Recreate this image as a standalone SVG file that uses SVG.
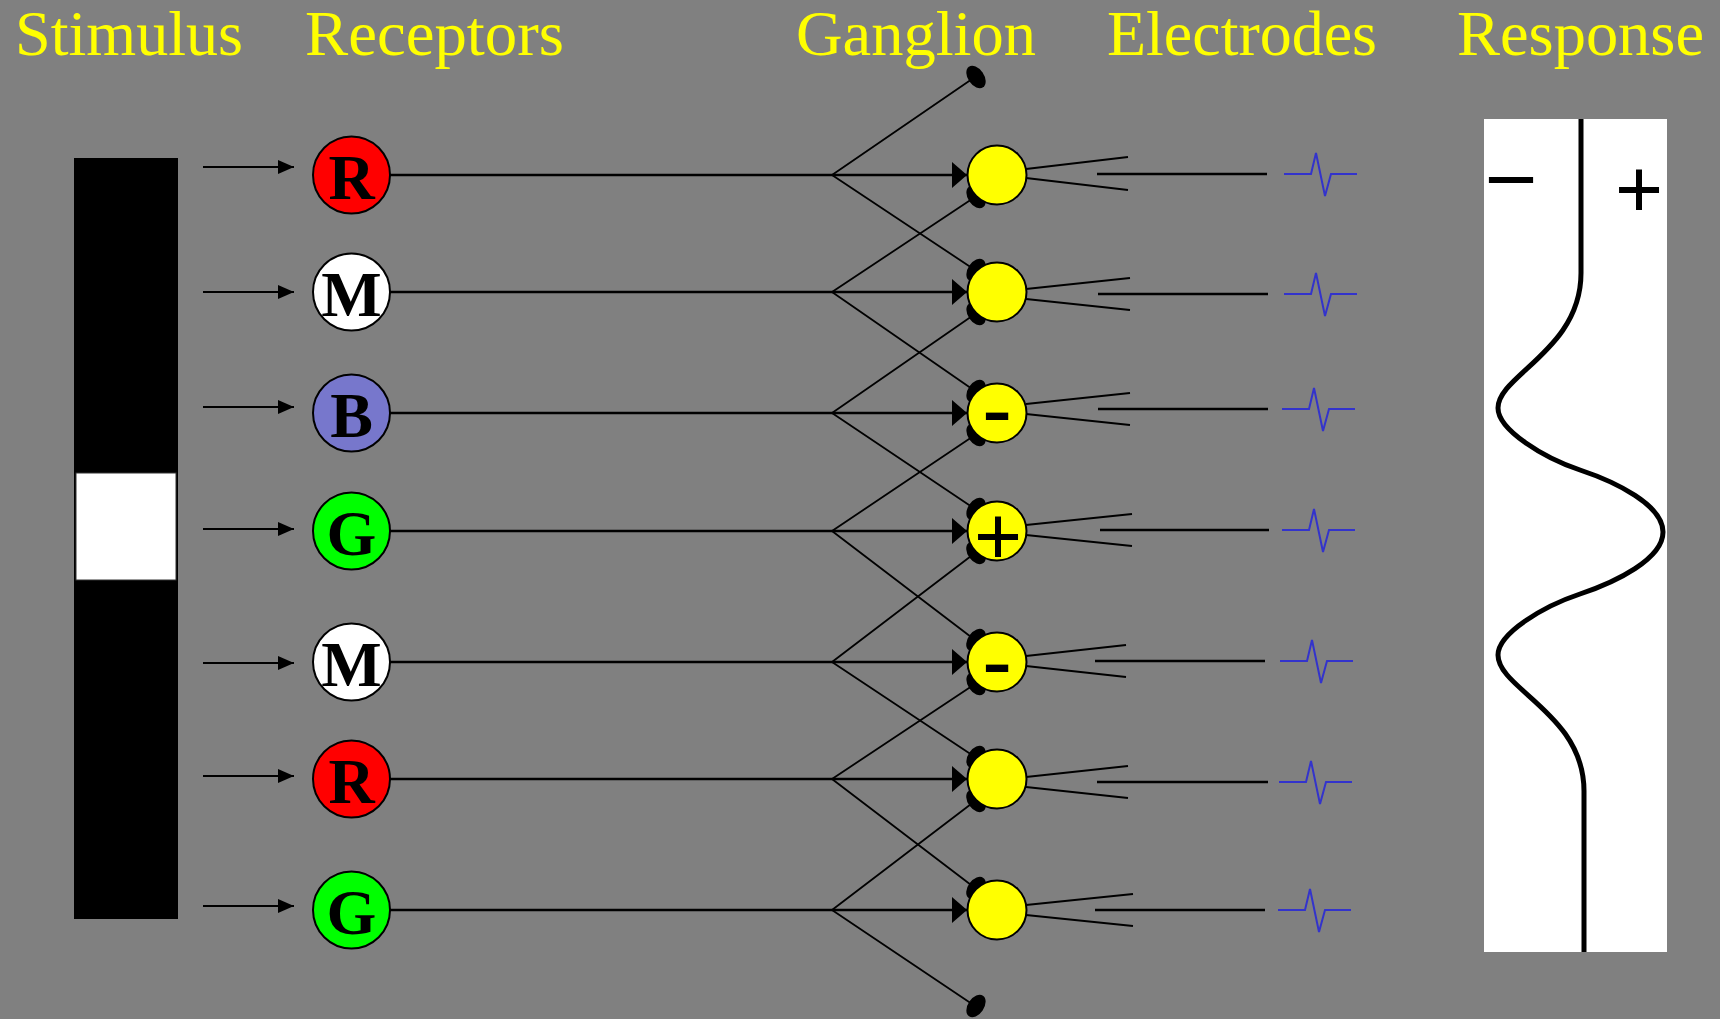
<svg xmlns="http://www.w3.org/2000/svg" width="1720" height="1019" viewBox="0 0 1720 1019">
<defs>
<style>
.hdr{font-family:"Liberation Serif","Times New Roman",serif;font-size:64px;fill:#ffff00;}
.rc{stroke:#000;stroke-width:2;}
.let{font-family:"Liberation Serif","Times New Roman",serif;font-size:64px;font-weight:bold;fill:#000;text-anchor:middle;}
.gc{fill:#ffff00;stroke:#000;stroke-width:2;}
.sign{font-family:"Liberation Serif","Times New Roman",serif;font-size:86px;font-weight:bold;fill:#000;text-anchor:middle;}
.in{stroke:#000;stroke-width:2;fill:none;}
.ax{stroke:#000;stroke-width:2.5;fill:none;}
.dg{stroke:#000;stroke-width:1.8;fill:none;}
.el{stroke:#000;stroke-width:2.5;fill:none;}
.v{stroke:#000;stroke-width:2;fill:none;}
.sp{stroke:#3333cc;stroke-width:2;fill:none;}
.blob{fill:#000;}
</style>
<marker id="ain" markerUnits="userSpaceOnUse" markerWidth="16" markerHeight="14" refX="16" refY="7" orient="auto"><path d="M0,0 L16,7 L0,14 z" fill="#000"/></marker>
<marker id="ag" markerUnits="userSpaceOnUse" markerWidth="15" markerHeight="26" refX="15" refY="13" orient="auto"><path d="M0,0 L15,13 L0,26 z" fill="#000"/></marker>
<path id="spike" d="M0,0 H27 L32,-21 L41,22 L47,0 H73"/>
</defs>
<rect width="1720" height="1019" fill="#808080"/>

<g id="headers">
<text class="hdr" x="15" y="55" textLength="228" lengthAdjust="spacingAndGlyphs">Stimulus</text>
<text class="hdr" x="305" y="55" textLength="259" lengthAdjust="spacingAndGlyphs">Receptors</text>
<text class="hdr" x="796" y="55" textLength="240" lengthAdjust="spacingAndGlyphs">Ganglion</text>
<text class="hdr" x="1107" y="55" textLength="270" lengthAdjust="spacingAndGlyphs">Electrodes</text>
<text class="hdr" x="1457" y="55" textLength="247" lengthAdjust="spacingAndGlyphs">Response</text>
</g>

<g id="stimulus">
<rect x="74" y="158" width="104" height="761" fill="#000"/>
<rect x="76" y="473" width="100" height="107" fill="#fff" stroke="#333" stroke-width="1"/>
</g>

<g id="connectors">
<line class="in" x1="203" y1="167" x2="294" y2="167" marker-end="url(#ain)"/>
<line class="in" x1="203" y1="292" x2="294" y2="292" marker-end="url(#ain)"/>
<line class="in" x1="203" y1="407" x2="294" y2="407" marker-end="url(#ain)"/>
<line class="in" x1="203" y1="529" x2="294" y2="529" marker-end="url(#ain)"/>
<line class="in" x1="203" y1="663" x2="294" y2="663" marker-end="url(#ain)"/>
<line class="in" x1="203" y1="776" x2="294" y2="776" marker-end="url(#ain)"/>
<line class="in" x1="203" y1="906" x2="294" y2="906" marker-end="url(#ain)"/>

<line class="ax" x1="390" y1="175" x2="967" y2="175" marker-end="url(#ag)"/>
<line class="ax" x1="390" y1="292" x2="967" y2="292" marker-end="url(#ag)"/>
<line class="ax" x1="390" y1="413" x2="967" y2="413" marker-end="url(#ag)"/>
<line class="ax" x1="390" y1="531" x2="967" y2="531" marker-end="url(#ag)"/>
<line class="ax" x1="390" y1="662" x2="967" y2="662" marker-end="url(#ag)"/>
<line class="ax" x1="390" y1="779" x2="967" y2="779" marker-end="url(#ag)"/>
<line class="ax" x1="390" y1="910" x2="967" y2="910" marker-end="url(#ag)"/>

<path class="dg" d="M832,175 L975,77 M832,175 L975,270"/>
<path class="dg" d="M832,292 L975,197 M832,292 L975,391"/>
<path class="dg" d="M832,413 L975,314 M832,413 L975,509"/>
<path class="dg" d="M832,531 L975,435 M832,531 L975,640"/>
<path class="dg" d="M832,662 L975,553 M832,662 L975,757"/>
<path class="dg" d="M832,779 L975,684 M832,779 L975,888"/>
<path class="dg" d="M832,910 L975,801 M832,910 L975,1006"/>

<g class="blob">
<ellipse cx="976" cy="77" rx="8" ry="12.5" transform="rotate(-34.5 976 77)"/>
<ellipse cx="976" cy="1006" rx="8" ry="12.5" transform="rotate(34 976 1006)"/>
<ellipse cx="976" cy="197" rx="8" ry="12.5" transform="rotate(-34 976 197)"/>
<ellipse cx="976" cy="270" rx="8" ry="12.5" transform="rotate(34 976 270)"/>
<ellipse cx="976" cy="314" rx="8" ry="12.5" transform="rotate(-34 976 314)"/>
<ellipse cx="976" cy="391" rx="8" ry="12.5" transform="rotate(34 976 391)"/>
<ellipse cx="976" cy="435" rx="8" ry="12.5" transform="rotate(-34 976 435)"/>
<ellipse cx="976" cy="509" rx="8" ry="12.5" transform="rotate(34 976 509)"/>
<ellipse cx="976" cy="553" rx="8" ry="12.5" transform="rotate(-36 976 553)"/>
<ellipse cx="976" cy="640" rx="8" ry="12.5" transform="rotate(36 976 640)"/>
<ellipse cx="976" cy="684" rx="8" ry="12.5" transform="rotate(-34 976 684)"/>
<ellipse cx="976" cy="757" rx="8" ry="12.5" transform="rotate(34 976 757)"/>
<ellipse cx="976" cy="801" rx="8" ry="12.5" transform="rotate(-36 976 801)"/>
<ellipse cx="976" cy="888" rx="8" ry="12.5" transform="rotate(36 976 888)"/>
</g>

<path class="v" d="M1026,169 L1128,157 M1026,178 L1128,190"/>
<path class="v" d="M1026,289 L1130,278 M1026,299 L1130,310"/>
<path class="v" d="M1026,404 L1130,393 M1026,414 L1130,425"/>
<path class="v" d="M1026,525 L1132,514 M1026,535 L1132,546"/>
<path class="v" d="M1026,656 L1126,645 M1026,666 L1126,677"/>
<path class="v" d="M1026,777 L1128,766 M1026,787 L1128,798"/>
<path class="v" d="M1026,905 L1133,894 M1026,915 L1133,926"/>

<line class="el" x1="1097" y1="174" x2="1267" y2="174"/>
<line class="el" x1="1098" y1="294" x2="1268" y2="294"/>
<line class="el" x1="1098" y1="409" x2="1268" y2="409"/>
<line class="el" x1="1100" y1="530" x2="1269" y2="530"/>
<line class="el" x1="1095" y1="661" x2="1265" y2="661"/>
<line class="el" x1="1097" y1="782" x2="1268" y2="782"/>
<line class="el" x1="1095" y1="910" x2="1265" y2="910"/>
</g>

<g id="spikes">
<use href="#spike" class="sp" x="1284" y="174"/>
<use href="#spike" class="sp" x="1284" y="294"/>
<use href="#spike" class="sp" x="1282" y="409"/>
<use href="#spike" class="sp" x="1282" y="530"/>
<use href="#spike" class="sp" x="1280" y="661"/>
<use href="#spike" class="sp" x="1279" y="782"/>
<use href="#spike" class="sp" x="1278" y="910"/>
</g>

<g id="receptor-1"><circle class="rc" cx="351.5" cy="175" r="38.5" fill="#ff0000"/><text class="let" x="351.5" y="199">R</text></g>
<g id="receptor-2"><circle class="rc" cx="351.5" cy="292" r="38.5" fill="#ffffff"/><text class="let" x="351.5" y="316">M</text></g>
<g id="receptor-3"><circle class="rc" cx="351.5" cy="413" r="38.5" fill="#7777cc"/><text class="let" x="351.5" y="437">B</text></g>
<g id="receptor-4"><circle class="rc" cx="351.5" cy="531" r="38.5" fill="#00ff00"/><text class="let" x="351.5" y="555">G</text></g>
<g id="receptor-5"><circle class="rc" cx="351.5" cy="662" r="38.5" fill="#ffffff"/><text class="let" x="351.5" y="686">M</text></g>
<g id="receptor-6"><circle class="rc" cx="351.5" cy="779" r="38.5" fill="#ff0000"/><text class="let" x="351.5" y="803">R</text></g>
<g id="receptor-7"><circle class="rc" cx="351.5" cy="910" r="38.5" fill="#00ff00"/><text class="let" x="351.5" y="934">G</text></g>

<g id="ganglion-1"><circle class="gc" cx="997" cy="175" r="29.5"/></g>
<g id="ganglion-2"><circle class="gc" cx="997" cy="292" r="29.5"/></g>
<g id="ganglion-3"><circle class="gc" cx="997" cy="413" r="29.5"/><text class="sign" x="997" y="437">-</text></g>
<g id="ganglion-4"><circle class="gc" cx="997" cy="531" r="29.5"/><text class="sign" x="998" y="566">+</text></g>
<g id="ganglion-5"><circle class="gc" cx="997" cy="662" r="29.5"/><text class="sign" x="997" y="689">-</text></g>
<g id="ganglion-6"><circle class="gc" cx="997" cy="779" r="29.5"/></g>
<g id="ganglion-7"><circle class="gc" cx="997" cy="910" r="29.5"/></g>

<g id="response">
<rect x="1484" y="119" width="183" height="833" fill="#ffffff"/>
<path d="M1581,119 V273 C1581,350 1498,375 1498,408 C1498,430 1544,458 1580,470 C1616,482 1663,505 1663,532 C1663,559 1616,582 1580,594 C1544,606 1498,633 1498,655 C1498,689 1584,714 1584,791 V952" fill="none" stroke="#000" stroke-width="5"/>
<text class="sign" x="1511" y="200" font-weight="normal">–</text>
<text class="sign" x="1639" y="219">+</text>
</g>
</svg>
